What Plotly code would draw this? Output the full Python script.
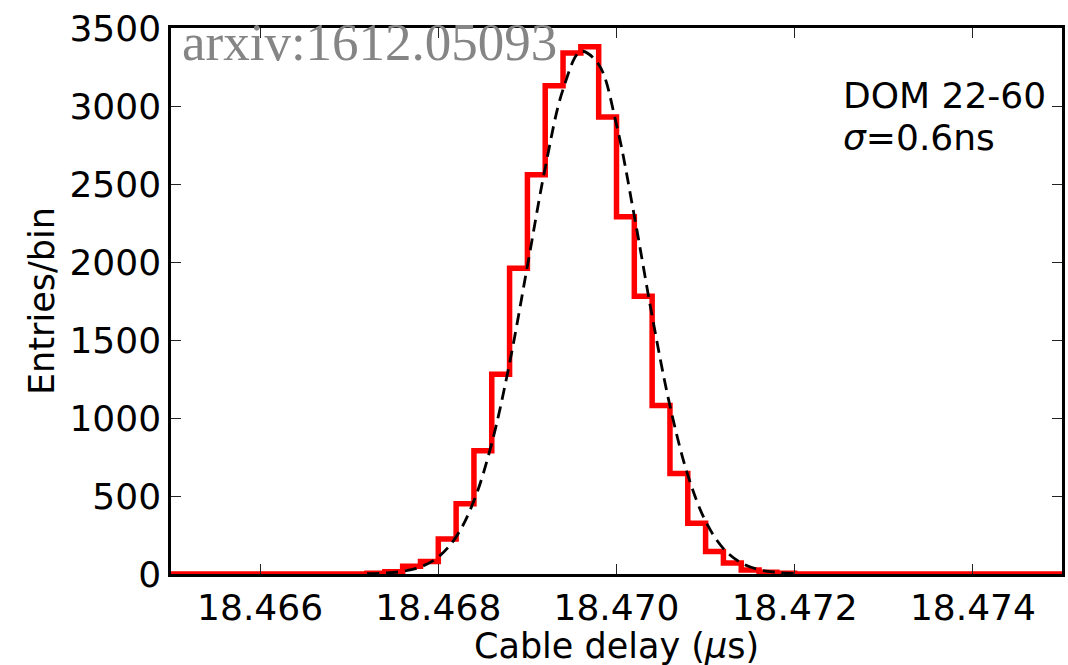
import numpy as np
import plotly.graph_objects as go

# Histogram: 50 bins of 0.0002 us from 18.465 to 18.475
bin_start = 18.465
bin_width = 0.0002
counts = [0, 0, 0, 0, 0, 0, 0, 0, 0, 0,
          0, 5, 15, 50, 80, 225, 450, 790, 1280, 1960,
          2560, 3130, 3340, 3380, 2930, 2290, 1780, 1080, 645, 325,
          145, 70, 25, 12, 5, 0, 0, 0, 0, 0,
          0, 0, 0, 0, 0, 0, 0, 0, 0, 0]

# Gaussian fit curve (dashed)
fit_x = [18.4672, 18.4674, 18.4676, 18.4678, 18.4680, 18.4682, 18.4684, 18.4686,
         18.4688, 18.4690, 18.4692, 18.4694, 18.4696, 18.4698, 18.4700, 18.4702,
         18.4704, 18.4706, 18.4708, 18.4710, 18.4712, 18.4714, 18.4716, 18.4718, 18.4720]
fit_y = [2, 6, 17, 45, 109, 238, 469, 838,
         1352, 1974, 2604, 3106, 3350, 3266, 2880, 2295,
         1654, 1078, 635, 338, 163, 71, 28, 10, 3]

x_ticks = [18.466, 18.468, 18.470, 18.472, 18.474]
y_ticks = [0, 500, 1000, 1500, 2000, 2500, 3000, 3500]

edges = bin_start + bin_width * np.arange(len(counts) + 1)
step_y = counts + [counts[-1]]

fig = go.Figure()
fig.add_trace(go.Scatter(x=edges, y=step_y, mode="lines", line_shape="hv",
                         line=dict(color="#ff0000", width=5.5), showlegend=False))
fig.add_trace(go.Scatter(x=fit_x, y=fit_y, mode="lines", line_shape="spline",
                         line=dict(color="black", width=2.8, dash="12px,7px"),
                         showlegend=False))

font_main = "DejaVu Sans"
fig.update_layout(
    width=1068, height=665,
    margin=dict(l=171, r=3, t=28, b=91),
    paper_bgcolor="white", plot_bgcolor="white",
    font=dict(family=font_main, size=36, color="black"),
    xaxis=dict(range=[18.465, 18.475], tickvals=x_ticks,
               ticktext=[f"{v:.3f}" for v in x_ticks],
               ticks="inside", ticklen=10, tickwidth=1, tickcolor="#222222",
               showline=True, linewidth=2.5, linecolor="black", mirror="ticks",
               showgrid=False, zeroline=False, ticklabelstandoff=0),
    yaxis=dict(range=[0, 3500], tickvals=y_ticks,
               ticks="inside", ticklen=10, tickwidth=1, tickcolor="#222222",
               showline=True, linewidth=2.5, linecolor="black", mirror="ticks",
               showgrid=False, zeroline=False, ticklabelstandoff=0),
    annotations=[
        dict(text="Cable delay (<i>μ</i>s)", xref="paper", yref="paper",
             x=0.5, y=0, xanchor="center", yanchor="top", yshift=-50,
             showarrow=False, font=dict(family=font_main, size=35)),
        dict(text="Entries/bin", xref="paper", yref="paper",
             x=0, y=0.5, xanchor="center", yanchor="middle", xshift=-129,
             textangle=-90, showarrow=False, font=dict(family=font_main, size=35)),
        dict(text="DOM 22-60", xref="paper", yref="paper",
             x=0.752, y=0.877, xanchor="left", yanchor="middle",
             showarrow=False, font=dict(family=font_main, size=36)),
        dict(text="<i>σ</i>=0.6ns", xref="paper", yref="paper",
             x=0.752, y=0.800, xanchor="left", yanchor="middle",
             showarrow=False, font=dict(family=font_main, size=36)),
        dict(text="arxiv:1612.05093", xref="paper", yref="paper",
             x=0.0101, y=0.974, xanchor="left", yanchor="middle",
             showarrow=False,
             font=dict(family="Liberation Serif", size=53, color="#858585")),
    ],
)

fig.write_html("out.html")
